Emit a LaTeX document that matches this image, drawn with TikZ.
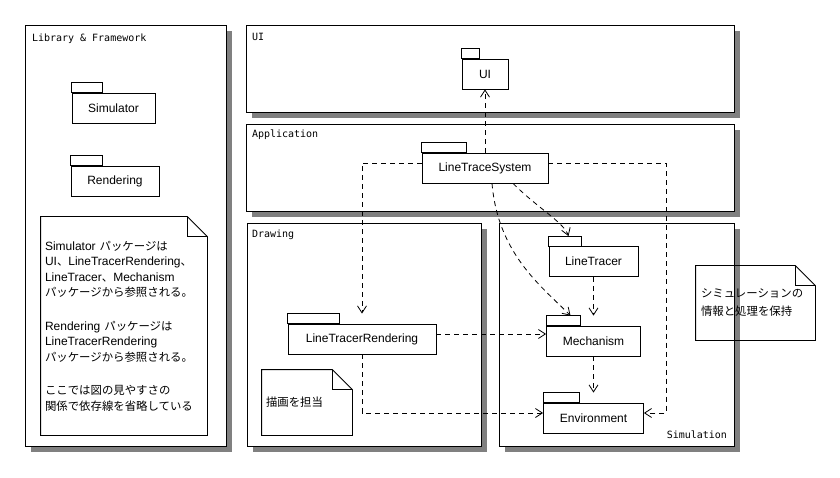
\documentclass[tikz,border=0pt]{standalone}
\usepackage{fontspec}
\setmainfont{Liberation Sans}
\newfontfamily\jpfont{Noto Sans CJK JP}[Scale=0.95]
\newfontfamily\ttlfont{DejaVu Sans Mono}
\newcommand{\ja}[1]{{\jpfont #1}}
\usetikzlibrary{arrows.meta,calc,shadows}
\definecolor{shgray}{RGB}{128,128,128}
\tikzset{
  layer/.style={draw, fill=white, inner sep=0pt,
    drop shadow={shadow xshift=6pt, shadow yshift=-6pt, opacity=1, fill=shgray}},
  ttl/.style={inner sep=0pt, font=\ttlfont\fontsize{10pt}{12pt}\selectfont},
  pkg/.style={draw, fill=white, minimum height=30pt, inner sep=0pt,
    font=\fontsize{12pt}{14pt}\selectfont},
  notebox/.style={inner xsep=4pt, inner ysep=0pt, align=left,
    font=\fontsize{12pt}{15.5pt}\selectfont},
  dep/.style={dash pattern=on 5pt off 4pt, -{Straight Barb[length=7pt,width=9pt]}},
}

\begin{document}
\begin{tikzpicture}[x=1pt, y=-1pt, line width=0.8pt]
  \fill[white] (0,0) rectangle (840,478);
  \useasboundingbox (0,0) rectangle (840,478);

  % layers
  \node[layer, minimum width=201pt, minimum height=421pt] (libL) at (125.5,235.5) {};
  \node[layer, minimum width=488pt, minimum height=87pt] (uiL) at (490,68.5) {};
  \node[layer, minimum width=488pt, minimum height=87pt] (appL) at (490,167.5) {};
  \node[layer, minimum width=234pt, minimum height=223pt] (drawL) at (364,334.5) {};
  \node[layer, minimum width=235pt, minimum height=223pt] (simL) at (616.5,334.5) {};

  \node[ttl, anchor=west] (libT) at ($(libL.north west)+(7,14)$) {Library \& Framework};
  \node[ttl, anchor=west] (uiT) at ($(uiL.north west)+(6,12)$) {UI};
  \node[ttl, anchor=west] (appT) at ($(appL.north west)+(6,11)$) {Application};
  \node[ttl, anchor=west] (drawT) at ($(drawL.north west)+(5,12)$) {Drawing};
  \node[ttl, anchor=east] (simT) at ($(simL.south east)+(-7,-12)$) {Simulation};

  % packages
  \node[pkg, minimum width=83pt] (simPkg) at (113.5,108) {Simulator};
  \node[pkg, minimum width=88pt] (rendPkg) at (115,181) {Rendering};
  \node[pkg, minimum width=46pt] (ui) at (485,74) {UI};
  \node[pkg, minimum width=126pt] (lts) at (485,168) {LineTraceSystem};
  \node[pkg, minimum width=148pt] (ltr) at (362,339) {LineTracerRendering};
  \node[pkg, minimum width=89pt] (lt) at (593.5,261.5) {LineTracer};
  \node[pkg, minimum width=94pt] (mech) at (593.5,341) {Mechanism};
  \node[pkg, minimum width=100pt] (env) at (593.5,418) {Environment};
  \foreach \p/\w in {simPkg/31,rendPkg/32,ui/18,lts/45,ltr/52,lt/33,mech/34,env/36}
    \draw[fill=white] (\p.north west) rectangle ([xshift=\w pt,yshift=10pt]\p.north west);

  % notes
  \node[notebox, minimum width=166pt, minimum height=218pt, text width=158pt] (libNote) at (124,326)
    {Simulator \ja{パッケージは}\\
     UI\ja{、}LineTracerRendering\ja{、}\\
     LineTracer\ja{、}Mechanism\\
     \ja{パッケージから参照される。}\\[18pt]
     Rendering \ja{パッケージは}\\
     LineTracerRendering\\
     \ja{パッケージから参照される。}\\[18pt]
     \ja{ここでは図の見やすさの}\\
     \ja{関係で依存線を省略している}};
  \node[notebox, minimum width=90pt, minimum height=65pt, text width=82pt] (drawNote) at (307,402.5)
    {\ja{描画を担当}};
  \node[notebox, inner xsep=5pt, minimum width=119pt, minimum height=74pt, text width=109pt] (simNote) at (755.5,303)
    {\ja{シミュレーションの}\\[2.5pt]
     \ja{情報と処理を保持}};
  \foreach \n in {libNote,drawNote,simNote} {
    \draw (\n.north west) -- ([xshift=-20pt]\n.north east) -- ([yshift=-20pt]\n.north east)
      -- (\n.south east) -- (\n.south west) -- cycle;
    \draw ([xshift=-20pt]\n.north east) |- ([yshift=-20pt]\n.north east);
  }

  % dependencies
  \draw[dep] (lts.north) -- (ui.south);
  \draw[dep] ([yshift=5pt]lts.west) -| ([yshift=10pt]ltr.north);
  \draw[dep] ([yshift=5pt]lts.east) -| ([xshift=22pt,yshift=5pt]env.east) -- ([yshift=5pt]env.east);
  \draw[dep] ([xshift=28pt]lts.south) .. controls +(25,25) and +(-5,-14) .. ([xshift=-25pt,yshift=10pt]lt.north);
  \draw[dep] ([xshift=7pt]lts.south) .. controls +(6,70) and +(-30,-30) .. ([xshift=-23pt,yshift=10pt]mech.north);
  \coordinate (ltrR) at ([yshift=5pt]ltr.east);
  \draw[dep] (ltrR) -- (ltrR -| mech.west);
  \draw[dep] (ltr.south) |- ([yshift=5pt]env.west);
  \draw[dep] (lt.south) -- ([yshift=10pt]mech.north);
  \draw[dep] (mech.south) -- ([yshift=10pt]env.north);
\end{tikzpicture}
\end{document}
